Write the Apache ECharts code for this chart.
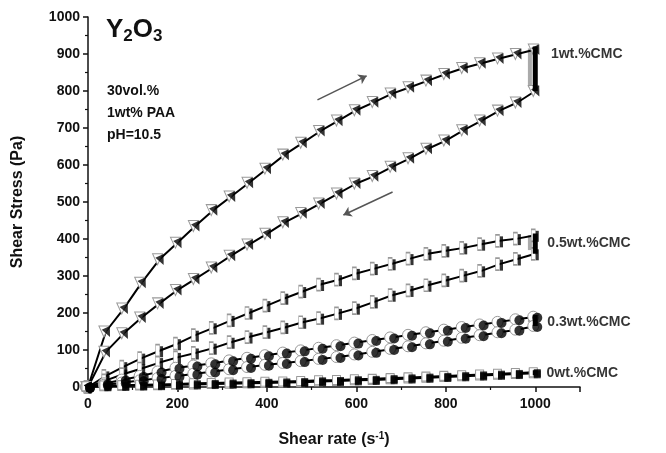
<!DOCTYPE html>
<html>
<head>
<meta charset="utf-8">
<script src="https://cdn.jsdelivr.net/npm/echarts@6/dist/echarts.min.js"></script>
<style>
    html, body {margin: 0; padding: 0; background: #fff;}
    #main {width: 666px; height: 453px;}
</style>
</head>
<body>
<div id="main"></div>
<script>
    // shear rate (s-1), same steps on every curve
    var shearRate = [0, 40, 80, 120, 160, 200, 240, 280, 320, 360, 400, 440, 480, 520, 560, 600, 640, 680, 720, 760, 800, 840, 880, 920, 960, 1000];

    // 1wt.%CMC
    var up1 = [0, 150, 212, 282, 345, 390, 435, 478, 515, 552, 590, 628, 660, 692, 720, 748, 770, 793, 810, 828, 846, 862, 875, 888, 900, 912];
    var down1 = [0, 95, 145, 188, 226, 262, 292, 323, 355, 385, 414, 445, 470, 496, 523, 550, 570, 595, 618, 644, 666, 694, 720, 747, 769, 800];
    // 0.5wt.%CMC
    var up05 = [0, 30, 55, 78, 98, 117, 140, 160, 180, 200, 220, 240, 258, 277, 290, 307, 320, 333, 347, 360, 368, 376, 386, 395, 401, 410];
    var down05 = [0, 18, 35, 50, 66, 80, 92, 105, 121, 135, 148, 161, 175, 186, 199, 213, 230, 248, 261, 275, 288, 301, 314, 332, 346, 360];
    // 0.3wt.%CMC
    var up03 = [0, 10, 20, 30, 42, 52, 58, 64, 72, 79, 86, 93, 99, 106, 113, 120, 127, 134, 141, 148, 155, 162, 169, 176, 183, 190];
    var down03 = [0, 6, 12, 18, 24, 30, 36, 42, 48, 54, 60, 65, 70, 76, 81, 88, 95, 103, 110, 118, 125, 133, 140, 148, 155, 165];
    // 0wt.%CMC
    var up0 = [2, 4, 5, 6, 7, 8, 10, 11, 12, 13, 14, 15, 16, 18, 19, 21, 22, 24, 26, 28, 30, 32, 34, 36, 38, 40];
    var down0 = [0, 2, 3, 4, 5, 6, 7, 8, 9, 10, 11, 12, 13, 15, 16, 18, 19, 21, 23, 25, 27, 29, 31, 33, 35, 37];

    // stress range held at 1000 s-1 (top, bottom)
    var hold1 = [920, 800];
    var hold05 = [415, 360];
    var hold03 = [195, 165];
    var hold0 = [45, 32];

    var curveLabels = ['1wt.%CMC', '0.5wt.%CMC', '0.3wt.%CMC', '0wt.%CMC'];
    var labelX = [1035, 1027, 1027, 1025];
    var labelY = [900, 388, 176, 38];

    function pairs(ys) {
        return ys.map(function (v, i) { return [shearRate[i], v]; });
    }

    var shapes = {
        tri: {sym: 'path://M0,0L10,0L5,10Z', w: 10, h: 11, rot: 25},
        bar: {sym: 'rect', w: 4, h: 12, rot: 0},
        circ: {sym: 'circle', w: 11, h: 11, rot: 0},
        sq: {sym: 'rect', w: 8, h: 9, rot: 0}
    };

    var series = [];
    function addCurve(ys, shape) {
        var s = shapes[shape];
        series.push({
            type: 'line',
            data: pairs(ys),
            symbol: s.sym,
            symbolSize: [s.w, s.h],
            symbolOffset: [-2, 0],
            showAllSymbol: true,
            itemStyle: {color: '#fff', borderColor: '#999', borderWidth: 1},
            lineStyle: {color: '#000', width: 2},
            z: 2
        });
        series.push({
            type: 'scatter',
            data: pairs(ys),
            symbol: s.sym,
            symbolSize: [s.w - 1, s.h - 1],
            symbolOffset: [2, 1],
            symbolRotate: s.rot,
            itemStyle: {color: '#000'},
            z: 3
        });
    }
    function addHold(h) {
        series.push({
            type: 'line',
            data: [[1000, h[0]], [1000, h[1]]],
            symbol: 'none',
            lineStyle: {color: '#000', width: 5},
            z: 4
        });
        series.push({
            type: 'line',
            data: [[988, h[0] - 5], [988, h[1] + 10]],
            symbol: 'none',
            lineStyle: {color: '#aaa', width: 4},
            z: 1
        });
    }

    addCurve(up1, 'tri');
    addCurve(down1, 'tri');
    addCurve(up05, 'bar');
    addCurve(down05, 'bar');
    addCurve(up03, 'circ');
    addCurve(down03, 'circ');
    addCurve(down0, 'sq');
    addCurve(up0, 'sq');
    addHold(hold1);
    addHold(hold05);
    addHold(hold03);
    addHold(hold0);

    // direction arrows
    series.push({
        type: 'line',
        data: [],
        markLine: {
            silent: true,
            symbol: ['none', 'arrow'],
            symbolSize: 8,
            label: {show: false},
            lineStyle: {color: '#555', width: 1.5, type: 'solid'},
            data: [
                [{coord: [513, 776]}, {coord: [623, 841]}],
                [{coord: [681, 527]}, {coord: [571, 465]}]
            ]
        }
    });

    // curve labels on the right
    series.push({
        type: 'scatter',
        symbolSize: 0,
        data: labelY.map(function (y, i) { return {value: [labelX[i], y], name: curveLabels[i]}; }),
        label: {
            show: true,
            position: 'right',
            distance: 0,
            formatter: '{b}',
            color: '#000',
            fontSize: 14,
            fontWeight: 'bold',
            fontFamily: 'Liberation Sans'
        },
        z: 5
    });

    var chart = echarts.init(document.getElementById('main'));
    chart.setOption({
        animation: false,
        backgroundColor: '#fff',
        grid: {left: 88, top: 17, right: 86, bottom: 66},
        graphic: [
            {
                type: 'text', left: 106, top: 17,
                style: {
                    text: 'Y{s|2}O{s|3}',
                    fill: '#111',
                    font: 'bold 26px "Liberation Sans"',
                    rich: {s: {fontSize: 17, fontWeight: 'bold', fontFamily: 'Liberation Sans', fill: '#111', verticalAlign: 'bottom', padding: [12, 0, 0, 0]}}
                }
            },
            {type: 'text', left: 107, top: 84, style: {text: '30vol.%', fill: '#111', font: 'bold 14px "Liberation Sans"'}},
            {type: 'text', left: 107, top: 106, style: {text: '1wt% PAA', fill: '#111', font: 'bold 14px "Liberation Sans"'}},
            {type: 'text', left: 107, top: 128, style: {text: 'pH=10.5', fill: '#111', font: 'bold 14px "Liberation Sans"'}}
        ],
        xAxis: {
            type: 'value',
            min: 0,
            max: 1100,
            interval: 200,
            name: 'Shear rate (s{sup|-1})',
            nameLocation: 'middle',
            nameGap: 44,
            nameTextStyle: {
                color: '#111', fontSize: 16, fontWeight: 'bold', fontFamily: 'Liberation Sans',
                rich: {sup: {fontSize: 10, fontWeight: 'bold', verticalAlign: 'top', padding: [0, 0, 8, 0], fontFamily: 'Liberation Sans'}}
            },
            axisLine: {show: true, lineStyle: {color: '#111', width: 1.5}},
            axisTick: {show: true, length: 5, lineStyle: {color: '#111', width: 1.5}},
            minorTick: {show: true, splitNumber: 2, length: 3, lineStyle: {color: '#111', width: 1.2}},
            axisLabel: {
                color: '#111', fontSize: 14, fontWeight: 'bold', fontFamily: 'Liberation Sans', margin: 10, showMaxLabel: false,
                formatter: function (v) { return String(v); }
            },
            splitLine: {show: false}
        },
        yAxis: {
            type: 'value',
            min: 0,
            max: 1000,
            interval: 100,
            name: 'Shear Stress (Pa)',
            nameLocation: 'middle',
            nameGap: 62,
            nameTextStyle: {color: '#111', fontSize: 16, fontWeight: 'bold', fontFamily: 'Liberation Sans'},
            axisLine: {show: true, lineStyle: {color: '#111', width: 1.5}},
            axisTick: {show: true, length: 5, lineStyle: {color: '#111', width: 1.5}},
            minorTick: {show: true, splitNumber: 2, length: 3, lineStyle: {color: '#111', width: 1.2}},
            axisLabel: {
                color: '#111', fontSize: 14, fontWeight: 'bold', fontFamily: 'Liberation Sans', margin: 8,
                formatter: function (v) { return String(v); }
            },
            splitLine: {show: false}
        },
        series: series
    });
</script>
</body>
</html>
